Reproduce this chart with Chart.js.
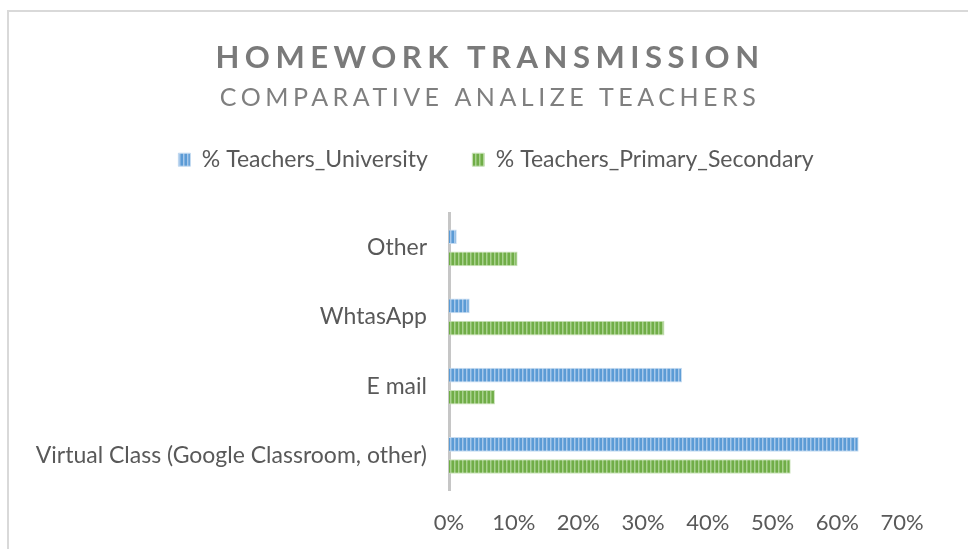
<!DOCTYPE html>
<html>
<head>
<meta charset="utf-8">
<title>Homework Transmission</title>
<script src="https://cdn.jsdelivr.net/npm/chart.js@4/dist/chart.umd.min.js"></script>
<style>
  html, body { margin: 0; padding: 0; background: #ffffff; overflow: hidden; }
  #wrap { position: relative; width: 968px; height: 549px; }
  #frame { position: absolute; left: 7px; top: 10px; right: -10px; bottom: -10px;
           border-top: 2px solid #d9d9d9; border-left: 2px solid #d9d9d9; }
  canvas { position: absolute; left: 0; top: 0; }
</style>
</head>
<body>
<div id="wrap">
  <div id="frame"></div>
  <canvas id="homeworkChart" width="968" height="549"></canvas>
</div>
<script>
// categories, top to bottom as shown
const categories = ['Other', 'WhtasApp', 'E mail', 'Virtual Class (Google Classroom, other)'];
const seriesNames = ['% Teachers_University', '% Teachers_Primary_Secondary'];
// values in percent
const universityPct = [1.2, 3.2, 36.0, 63.3];
const primarySecondaryPct = [10.6, 33.3, 7.1, 52.8];
const xTicks = [0, 10, 20, 30, 40, 50, 60, 70];

const TITLE = 'HOMEWORK TRANSMISSION';
const SUBTITLE = 'COMPARATIVE ANALIZE TEACHERS';
const FONT = 'Lato, "Open Sans", sans-serif';

// vertical stripe fill like the Excel texture
function stripes(colors) {
  const c = document.createElement('canvas');
  c.width = colors.length;
  c.height = 1;
  const g = c.getContext('2d');
  colors.forEach((col, i) => {
    g.fillStyle = col;
    g.fillRect(i, 0, 1, 1);
  });
  return g.createPattern(c, 'repeat');
}

const blueFill = stripes(['#5b9bd5', '#5b9bd5', '#a7c8ea', '#7eb0e0']);
const greenFill = stripes(['#70ad47', '#70ad47', '#a9d18e', '#8cc06a']);

// wrap a box's draw: shift it sideways (the frame is centred right of the plot) and set letter spacing
function wrapDraw(box, shiftX, spacing) {
  const draw = box.draw;
  box.draw = function () {
    this.ctx.save();
    this.ctx.translate(shiftX, 0);
    if (spacing) this.ctx.letterSpacing = spacing;
    draw.apply(this, arguments);
    this.ctx.restore();
  };
  box._wrapped = true;
}

const headerTweaks = {
  id: 'headerTweaks',
  beforeUpdate(chart) {
    chart.boxes.forEach((box) => {
      if (box._wrapped || !box.options) return;
      if (box.options.text === TITLE) wrapDraw(box, 39, '5.5px');
      else if (box.options.text === SUBTITLE) wrapDraw(box, 39, '4.5px');
    });
    const legend = chart.legend;
    if (legend && !legend._wrapped) {
      const fit = legend.fit;
      legend.fit = function () {
        fit.apply(this, arguments);
        this.height = 75;
      };
      wrapDraw(legend, 45, null);
    }
  },
};

const ctx = document.getElementById('homeworkChart').getContext('2d');
new Chart(ctx, {
  type: 'bar',
  data: {
    labels: categories,
    datasets: [
      {
        label: seriesNames[0],
        data: universityPct,
        backgroundColor: blueFill,
        borderColor: '#c5dbf1',
        borderWidth: 1,
        categoryPercentage: 0.64,
        barPercentage: 0.66,
      },
      {
        label: seriesNames[1],
        data: primarySecondaryPct,
        backgroundColor: greenFill,
        borderColor: '#c9e2b8',
        borderWidth: 1,
        categoryPercentage: 0.64,
        barPercentage: 0.66,
      },
    ],
  },
  options: {
    indexAxis: 'y',
    responsive: false,
    animation: false,
    layout: { padding: { top: 0, left: 0, right: 66, bottom: 14 } },
    scales: {
      x: {
        min: 0,
        max: 70,
        afterBuildTicks: (axis) => { axis.ticks = xTicks.map((v) => ({ value: v })); },
        afterFit: (scale) => { scale.height = 45; },
        grid: { display: false, drawTicks: false },
        border: { display: false },
        ticks: {
          padding: 20,
          color: '#595959',
          font: { family: FONT, size: 22 },
          callback: (v) => v + '%',
        },
      },
      y: {
        afterFit: (scale) => { scale.width = 449; },
        grid: { display: false, drawTicks: false },
        border: { display: true, color: '#c6c6c6', width: 3 },
        ticks: {
          padding: 22,
          color: '#595959',
          font: { family: FONT, size: 23 },
        },
      },
    },
    plugins: {
      tooltip: { enabled: false },
      title: {
        display: true,
        text: TITLE,
        color: '#7a7a7a',
        font: { family: FONT, size: 31, weight: 'bold', lineHeight: 1.2 },
        padding: { top: 39, bottom: 7 },
      },
      subtitle: {
        display: true,
        text: SUBTITLE,
        color: '#7f7f7f',
        font: { family: FONT, size: 25, weight: 'normal', lineHeight: 1.2 },
        padding: { top: 0, bottom: 25 },
      },
      legend: {
        position: 'top',
        labels: {
          color: '#595959',
          font: { family: FONT, size: 23 },
          boxWidth: 12,
          boxHeight: 13,
          padding: 10,
          generateLabels(chart) {
            const items = Chart.defaults.plugins.legend.labels.generateLabels(chart);
            items[0].text += '\u2003\u2003';
            return items;
          },
        },
      },
    },
  },
  plugins: [headerTweaks],
});
</script>
</body>
</html>
